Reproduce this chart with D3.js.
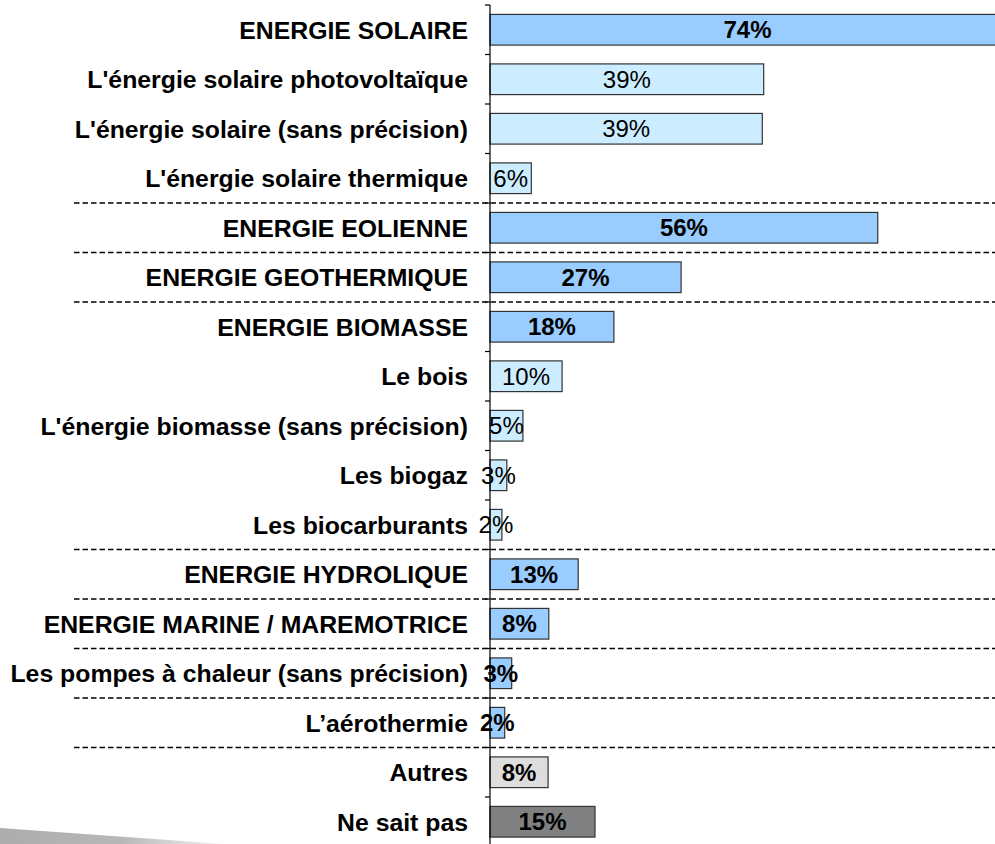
<!DOCTYPE html>
<html>
<head>
<meta charset="utf-8">
<script src="https://cdn.jsdelivr.net/npm/d3@7"></script>
<style>
  html, body { margin: 0; padding: 0; background: #fff; }
  svg { display: block; }
</style>
</head>
<body>
<svg id="chart" width="995" height="844"></svg>
<script>
// ---- data ----
const categories = [
  "ENERGIE SOLAIRE",
  "L'énergie solaire photovoltaïque",
  "L'énergie solaire (sans précision)",
  "L'énergie solaire thermique",
  "ENERGIE EOLIENNE",
  "ENERGIE GEOTHERMIQUE",
  "ENERGIE BIOMASSE",
  "Le bois",
  "L'énergie biomasse (sans précision)",
  "Les biogaz",
  "Les biocarburants",
  "ENERGIE HYDROLIQUE",
  "ENERGIE MARINE / MAREMOTRICE",
  "Les pompes à chaleur (sans précision)",
  "L\u2019aérothermie",
  "Autres",
  "Ne sait pas"
];
const values = [74, 39.1, 38.9, 5.9, 55.4, 27.3, 17.7, 10.3, 4.7, 2.4, 1.7, 12.6, 8.4, 3.1, 2.1, 8.3, 15];
const valueLabels = ["74%", "39%", "39%", "6%", "56%", "27%", "18%", "10%", "5%", "3%", "2%", "13%", "8%", "3%", "2%", "8%", "15%"];
const levels = ["main", "sub", "sub", "sub", "main", "main", "main", "sub", "sub", "sub", "sub", "main", "main", "heat", "heat", "other", "dontknow"];
const groups = [0, 0, 0, 0, 1, 2, 3, 3, 3, 3, 3, 4, 5, 6, 7, 8, 8];

// ---- styles ----
const fillByLevel = { main: "#99CCFF", sub: "#CCECFF", heat: "#99CCFF", other: "#DDDDDD", dontknow: "#808080" };
const boldValue = { main: true, sub: false, heat: true, other: true, dontknow: true };

const svg = d3.select("#chart");
const W = 995, H = 844;
const x0 = 490;
const yTop = 5, rowStep = 49.5;

const defs = svg.append("defs");
const grad = defs.append("linearGradient").attr("id", "deco").attr("x1", "0").attr("x2", "1").attr("y1", "0").attr("y2", "0");
grad.append("stop").attr("offset", "0").attr("stop-color", "#acacac");
grad.append("stop").attr("offset", "0.55").attr("stop-color", "#b8b8b8");
grad.append("stop").attr("offset", "1").attr("stop-color", "#f6f6f6");

// decorative slide wedge bottom-left
svg.append("path")
  .attr("d", "M0,828 L225,844 L0,844 Z")
  .attr("fill", "url(#deco)");

const y = d3.scaleBand()
  .domain(categories)
  .range([yTop, yTop + rowStep * categories.length])
  .paddingInner(0.38)
  .paddingOuter(0.19);

const x = d3.scaleLinear().domain([0, 100]).range([x0, x0 + 700]);

const rows = categories.map((c, i) => ({ c, v: values[i], lab: valueLabels[i], lvl: levels[i], g: groups[i] }));

// dashed separators between groups
const sepIdx = [];
for (let i = 1; i < rows.length; i++) if (rows[i].g !== rows[i - 1].g) sepIdx.push(i);
svg.append("g").selectAll("line").data(sepIdx).join("line")
  .attr("x1", 74).attr("x2", W)
  .attr("y1", i => y(categories[i]) - y.step() * y.paddingInner() / 2)
  .attr("y2", i => y(categories[i]) - y.step() * y.paddingInner() / 2)
  .attr("stroke", "#000").attr("stroke-width", 1.6)
  .attr("stroke-dasharray", "5.5,3");

// bars
svg.append("g").selectAll("rect").data(rows).join("rect")
  .attr("x", x(0))
  .attr("y", d => y(d.c))
  .attr("width", d => x(d.v) - x(0))
  .attr("height", y.bandwidth())
  .attr("fill", d => fillByLevel[d.lvl])
  .attr("stroke", "#333")
  .attr("stroke-width", 1.2);

// axis
const axis = d3.axisLeft(y).tickSize(0).tickFormat("");
const ag = svg.append("g").attr("transform", `translate(${x0},0)`).call(axis);
ag.select(".domain").remove();
ag.selectAll(".tick").remove();
ag.append("line").attr("x1", 0).attr("x2", 0).attr("y1", yTop).attr("y2", H + 5).attr("stroke", "#000").attr("stroke-width", 1.2);
const bounds = d3.range(categories.length + 1).map(i => yTop + i * y.step());
ag.append("g").selectAll("line").data(bounds).join("line")
  .attr("x1", -5).attr("x2", 0).attr("y1", d => d).attr("y2", d => d)
  .attr("stroke", "#000").attr("stroke-width", 1.2);

// category labels
svg.append("g").selectAll("text").data(rows).join("text")
  .attr("x", 468)
  .attr("y", d => y(d.c) + y.bandwidth() / 2)
  .attr("dy", "0.36em")
  .attr("text-anchor", "end")
  .attr("font-family", "Liberation Sans, Arial, sans-serif")
  .attr("font-size", 24.8)
  .attr("font-weight", "bold")
  .attr("fill", "#000")
  .text(d => d.c);

// value labels
svg.append("g").selectAll("text").data(rows).join("text")
  .attr("x", d => (x(0) + Math.min(x(d.v), W + 10)) / 2)
  .attr("y", d => y(d.c) + y.bandwidth() / 2)
  .attr("dy", "0.36em")
  .attr("text-anchor", "middle")
  .attr("font-family", "Liberation Sans, Arial, sans-serif")
  .attr("font-size", 24)
  .attr("font-weight", d => boldValue[d.lvl] ? "bold" : "normal")
  .attr("fill", "#000")
  .text(d => d.lab);
</script>
</body>
</html>
